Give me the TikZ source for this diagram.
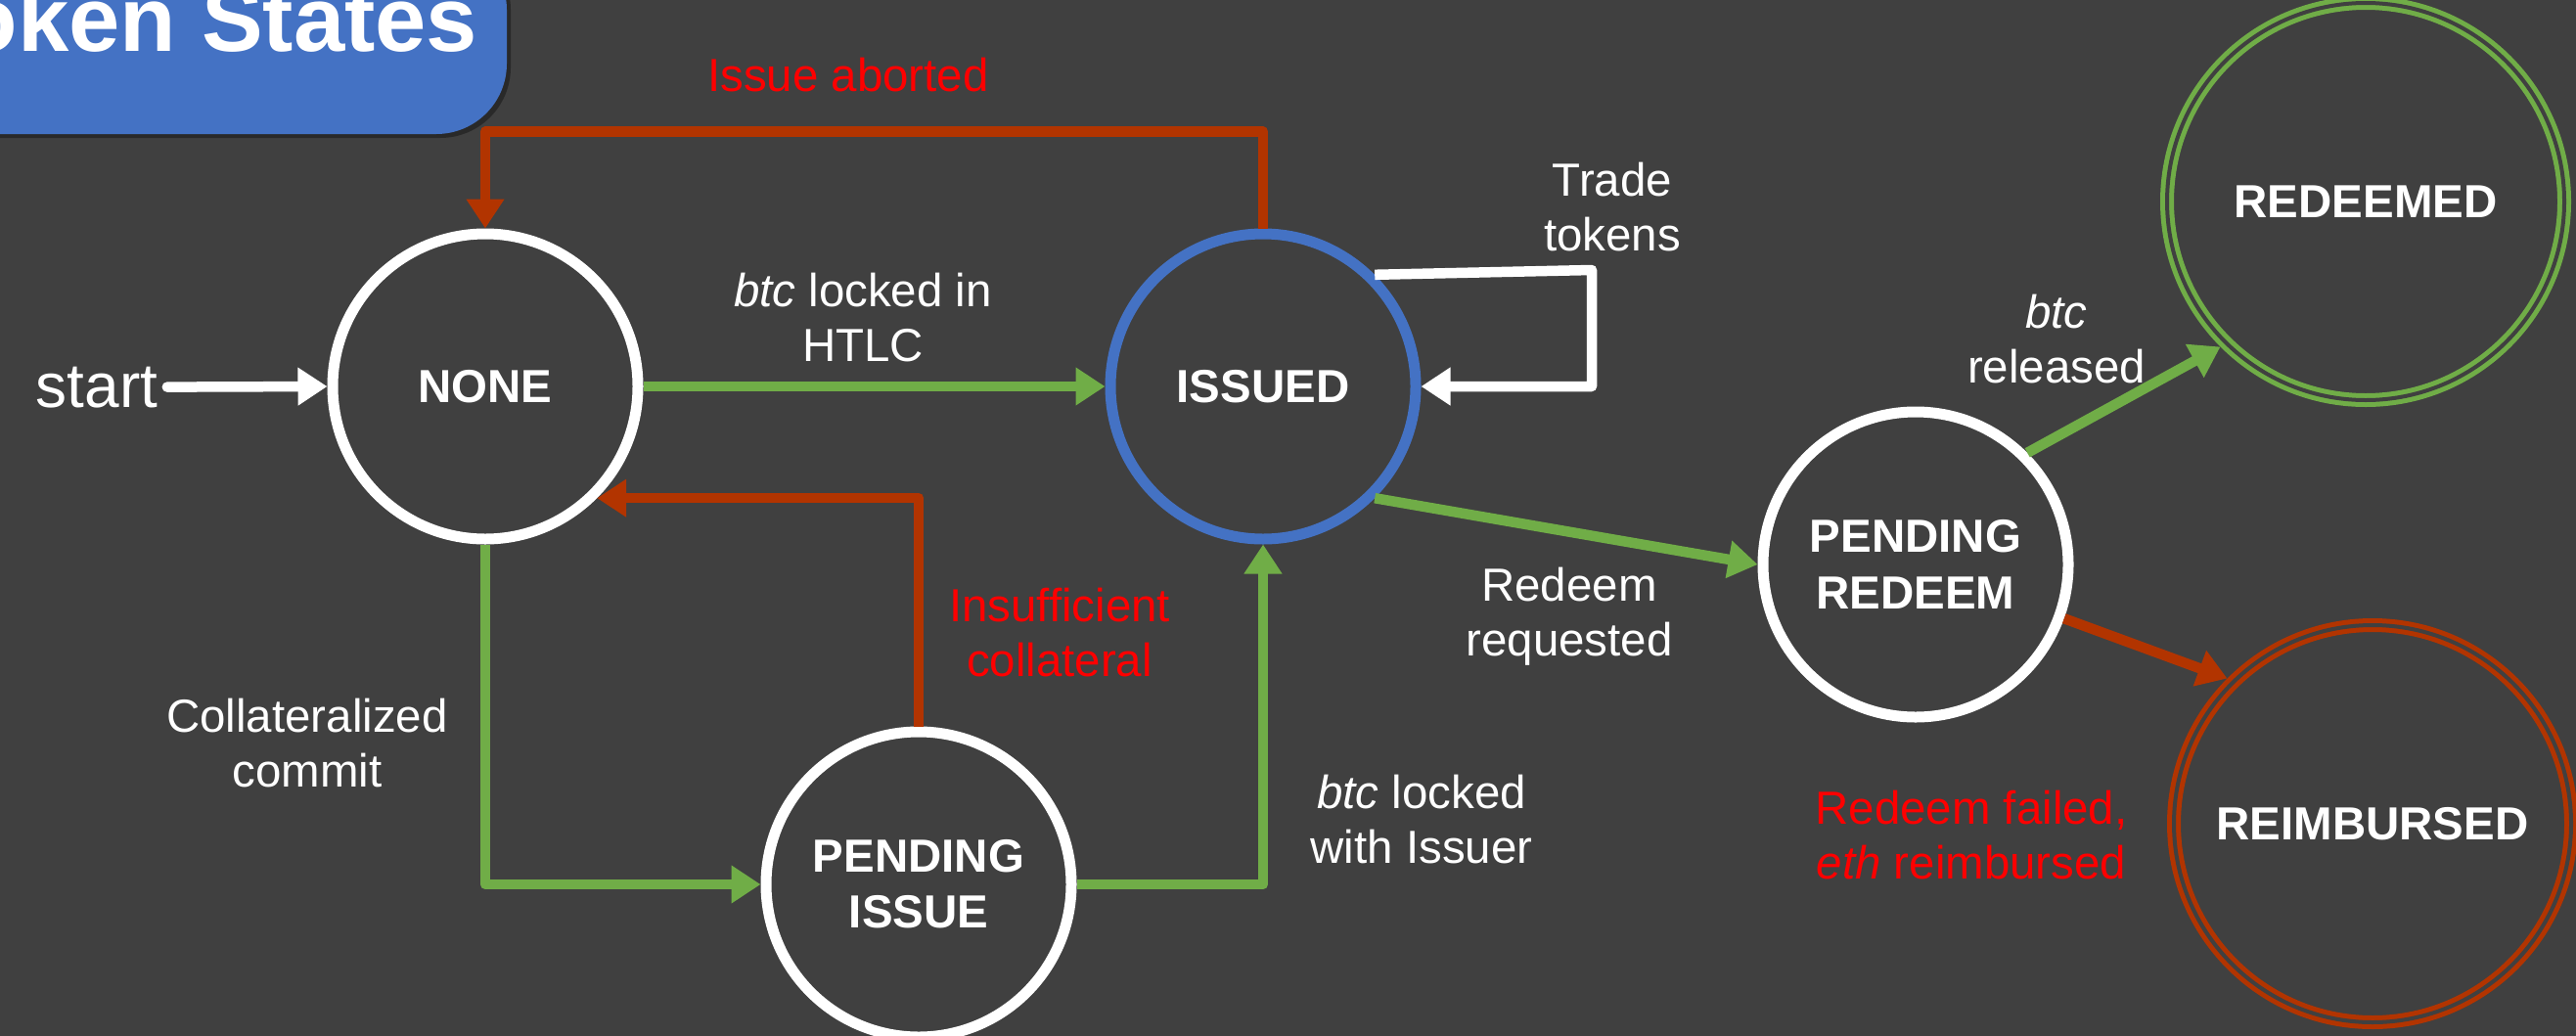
\documentclass[tikz,border=0pt]{standalone}
\usepackage{fontspec}
\setmainfont{Liberation Sans}
\usetikzlibrary{arrows.meta,positioning}
\definecolor{slidebg}{HTML}{404040}
\definecolor{accentblue}{HTML}{4472C4}
\definecolor{okgreen}{HTML}{70AD47}
\definecolor{failred}{RGB}{178,52,0}
\definecolor{notered}{HTML}{FF0000}

\begin{document}
\begin{tikzpicture}[>={Triangle[length=0.3cm,width=0.37cm]},
  state/.style={circle,draw=white,line width=0.11cm,minimum size=3.12cm,inner sep=0pt,
    align=center,text=white,font=\fontsize{13.5}{16.3}\selectfont\bfseries},
  final/.style={state,line width=0.05cm,double=slidebg,double distance=0.04cm,
    minimum size=4.06cm,outer sep=0.07cm},
  edge/.style={->,line width=0.105cm,line join=round},
  lbl/.style={anchor=north,inner sep=0pt,align=center,text=white,
    font=\fontsize{13.5}{16}\selectfont}]
\useasboundingbox (0,0) rectangle (26.33,10.58);
\fill[slidebg] (-0.2,-0.2) rectangle (26.53,10.78);

% title tab, cut by the left edge
\fill[black,opacity=0.35,rounded corners=0.72cm] (-1,9.17) rectangle (5.22,11.2);
\fill[accentblue,rounded corners=0.72cm] (-1,9.21) rectangle (5.18,11.2);
\node[anchor=base east,inner sep=0pt,text=white,font=\fontsize{26.75}{30}\selectfont\bfseries]
  (title) at (4.89,10.06) {Token States};

% states
\node[state] (none) at (4.96,6.63) {NONE};
\node[state,draw=accentblue] (issued) at (12.91,6.63) {ISSUED};
\node[state] (pissue) at (9.39,1.54) {PENDING\\ISSUE};
\node[state] (predeem) at (19.58,4.81) {PENDING\\REDEEM};
\node[final,draw=okgreen] (redeemed) at (24.18,8.52) {REDEEMED};
\node[final,draw=failred] (reimbursed) at (24.25,2.16) {REIMBURSED};

% start
\node[anchor=base west,inner sep=0pt,text=white,font=\fontsize{18.2}{22}\selectfont]
  (start) at (0.36,6.42) {start};
\draw[edge,white,line cap=round,shorten <=0.09cm] (start.east) -- (none.west);

% transitions
\draw[edge,okgreen] (none.east) -- (issued.west);
\draw[edge,okgreen] (none.south) |- (pissue.west);
\draw[edge,okgreen] (pissue.east) -| (issued.south);
\draw[edge,failred] (pissue.north) |- (none.south east);
\draw[edge,failred] (issued.north) -- ++(0,0.99) -| (none.north);
\draw[edge,white] (issued.north east) -- (16.27,7.82) |- (issued.east);
\draw[edge,okgreen] (issued.south east) -- (predeem.west);
\draw[edge,okgreen] (predeem.north east) -- (redeemed.south west);
\draw[edge,failred] (predeem.-20) -- (reimbursed.north west);

% labels
\node[lbl,text=notered] (abortlbl) at (8.67,10.00) {Issue aborted};
\node[lbl] (htlclbl) at (8.82,7.80) {\textit{btc} locked in\\HTLC};
\node[lbl] (tradelbl) at (16.48,8.93) {Trade\\tokens};
\node[lbl] (commitlbl) at (3.14,3.45) {Collateralized\\commit};
\node[lbl,text=notered] (insufflbl) at (10.83,4.58) {Insufficient\\collateral};
\node[lbl] (issuerlbl) at (14.53,2.67) {\textit{btc} locked\\with Issuer};
\node[lbl] (requestlbl) at (16.04,4.79) {Redeem\\requested};
\node[lbl] (releasedlbl) at (21.02,7.58) {\textit{btc}\\released};
\node[lbl,text=notered] (failedlbl) at (20.15,2.51) {Redeem failed,\\\textit{eth} reimbursed};
\end{tikzpicture}
\end{document}
